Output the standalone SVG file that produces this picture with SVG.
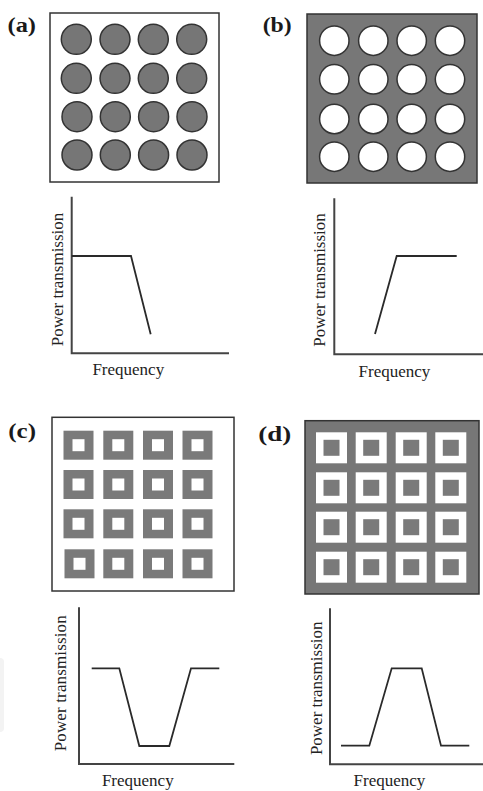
<svg xmlns="http://www.w3.org/2000/svg" xmlns:xlink="http://www.w3.org/1999/xlink" width="483" height="791" viewBox="0 0 483 791">
<style>
.lbl{font-family:"Liberation Serif","Times New Roman",serif;font-weight:bold;font-size:22px;fill:#1a1a1a}
.ax{font-family:"Liberation Serif","Times New Roman",serif;font-size:17px;fill:#222}
.axis{stroke:#444;stroke-width:2;fill:none}
.curve{stroke:#2a2a2a;stroke-width:1.8;fill:none;stroke-linejoin:miter}
.box{stroke:#333;stroke-width:1.5}
</style>
<defs>
<circle id="cdark" r="15" fill="#767676" stroke="#333" stroke-width="1.5"/>
<circle id="clight" r="14.7" fill="#fff" stroke="#333" stroke-width="1.5"/>
<g id="sqc"><rect width="30" height="29" fill="#7a7a7a"/><rect x="9" y="8.5" width="12" height="12" fill="#fff"/></g>
<g id="sqd"><rect width="31" height="31" fill="#fff"/><rect x="7.5" y="7.5" width="16" height="16" fill="#7a7a7a"/></g>
</defs>
<rect x="-4" y="658" width="8" height="74" rx="4" fill="#f3f3f3"/>

<g id="panel-a">
<text class="lbl" x="7.5" y="32" textLength="28.5" lengthAdjust="spacingAndGlyphs">(a)</text>
<rect class="box" x="50" y="13" width="169" height="169" fill="#fff"/>
<use xlink:href="#cdark" x="76.3" y="39.3"/><use xlink:href="#cdark" x="115" y="39.3"/><use xlink:href="#cdark" x="153.3" y="39.3"/><use xlink:href="#cdark" x="191.7" y="39.3"/>
<use xlink:href="#cdark" x="76.3" y="78.3"/><use xlink:href="#cdark" x="115" y="78.3"/><use xlink:href="#cdark" x="153.3" y="78.3"/><use xlink:href="#cdark" x="191.7" y="78.3"/>
<use xlink:href="#cdark" x="77" y="116.7"/><use xlink:href="#cdark" x="115.3" y="116.7"/><use xlink:href="#cdark" x="153.6" y="116.7"/><use xlink:href="#cdark" x="192" y="116.7"/>
<use xlink:href="#cdark" x="77" y="155"/><use xlink:href="#cdark" x="115.3" y="155"/><use xlink:href="#cdark" x="153.6" y="155"/><use xlink:href="#cdark" x="192" y="155"/>
</g>

<g id="panel-b">
<text class="lbl" x="262.7" y="32" textLength="29" lengthAdjust="spacingAndGlyphs">(b)</text>
<rect class="box" x="307" y="14" width="170" height="169" fill="#777"/>
<use xlink:href="#clight" x="334.3" y="40.7"/><use xlink:href="#clight" x="373.3" y="40.7"/><use xlink:href="#clight" x="411.7" y="40.7"/><use xlink:href="#clight" x="450" y="40.7"/>
<use xlink:href="#clight" x="334.3" y="79.3"/><use xlink:href="#clight" x="373.3" y="79.3"/><use xlink:href="#clight" x="411.7" y="79.3"/><use xlink:href="#clight" x="450" y="79.3"/>
<use xlink:href="#clight" x="334.3" y="119"/><use xlink:href="#clight" x="373.3" y="119"/><use xlink:href="#clight" x="411.7" y="119"/><use xlink:href="#clight" x="450" y="119"/>
<use xlink:href="#clight" x="334.3" y="156.7"/><use xlink:href="#clight" x="373.3" y="156.7"/><use xlink:href="#clight" x="411.7" y="156.7"/><use xlink:href="#clight" x="450" y="156.7"/>
</g>

<g id="graph-a">
<path class="axis" d="M71.7 196.7 V353.3 H229"/>
<path class="curve" d="M71.7 256 H131 L150.7 334.3"/>
<text class="ax" transform="translate(63 279.5) rotate(-90)" text-anchor="middle">Power transmission</text>
<text class="ax" x="128.3" y="374.5" text-anchor="middle">Frequency</text>
</g>

<g id="graph-b">
<path class="axis" d="M334.3 198.3 V354.3 H483"/>
<path class="curve" d="M375 334 L396.7 256 H456.7"/>
<text class="ax" transform="translate(325 280) rotate(-90)" text-anchor="middle">Power transmission</text>
<text class="ax" x="394.5" y="377" text-anchor="middle">Frequency</text>
</g>

<g id="panel-c">
<text class="lbl" x="8.3" y="438" textLength="27.7" lengthAdjust="spacingAndGlyphs">(c)</text>
<rect class="box" x="52" y="417.3" width="182" height="173.7" fill="#fff"/>
<use xlink:href="#sqc" x="63.5" y="430.7"/><use xlink:href="#sqc" x="103.3" y="430.7"/><use xlink:href="#sqc" x="143" y="430.7"/><use xlink:href="#sqc" x="182.5" y="430.7"/>
<use xlink:href="#sqc" x="63.5" y="470"/><use xlink:href="#sqc" x="103.3" y="470"/><use xlink:href="#sqc" x="143" y="470"/><use xlink:href="#sqc" x="182.5" y="470"/>
<use xlink:href="#sqc" x="63.5" y="509.3"/><use xlink:href="#sqc" x="103.3" y="509.3"/><use xlink:href="#sqc" x="143" y="509.3"/><use xlink:href="#sqc" x="182.5" y="509.3"/>
<use xlink:href="#sqc" x="64.5" y="549.3"/><use xlink:href="#sqc" x="103.3" y="549.3"/><use xlink:href="#sqc" x="143" y="549.3"/><use xlink:href="#sqc" x="182.5" y="549.3"/>
</g>

<g id="panel-d">
<text class="lbl" x="258.3" y="441" textLength="33" lengthAdjust="spacingAndGlyphs">(d)</text>
<rect class="box" x="305" y="420.7" width="174" height="173.3" fill="#777"/>
<use xlink:href="#sqd" x="316" y="432.3"/><use xlink:href="#sqd" x="355.7" y="432.3"/><use xlink:href="#sqd" x="395.7" y="432.3"/><use xlink:href="#sqd" x="435.3" y="432.3"/>
<use xlink:href="#sqd" x="316" y="472.3"/><use xlink:href="#sqd" x="355.7" y="472.3"/><use xlink:href="#sqd" x="395.7" y="472.3"/><use xlink:href="#sqd" x="435.3" y="472.3"/>
<use xlink:href="#sqd" x="316" y="511.7"/><use xlink:href="#sqd" x="355.7" y="511.7"/><use xlink:href="#sqd" x="395.7" y="511.7"/><use xlink:href="#sqd" x="435.3" y="511.7"/>
<use xlink:href="#sqd" x="316" y="551.7"/><use xlink:href="#sqd" x="355.7" y="551.7"/><use xlink:href="#sqd" x="395.7" y="551.7"/><use xlink:href="#sqd" x="435.3" y="551.7"/>
</g>

<g id="graph-c">
<path class="axis" d="M79 607.3 V764 H234.3"/>
<path class="curve" d="M91.7 668.3 H119.3 L139.3 746 H169.3 L191 668.3 H219.3"/>
<text class="ax" transform="translate(65.5 683.3) rotate(-90)" text-anchor="middle" textLength="136">Power transmission</text>
<text class="ax" x="137.8" y="785.5" text-anchor="middle">Frequency</text>
</g>

<g id="graph-d">
<path class="axis" d="M330 608.3 V764.3 H483"/>
<path class="curve" d="M341 745.7 H369.3 L391.7 668.3 H421.7 L441 745.7 H469.3"/>
<text class="ax" transform="translate(321.5 688.3) rotate(-90)" text-anchor="middle">Power transmission</text>
<text class="ax" x="389.5" y="785.5" text-anchor="middle">Frequency</text>
</g>
</svg>
